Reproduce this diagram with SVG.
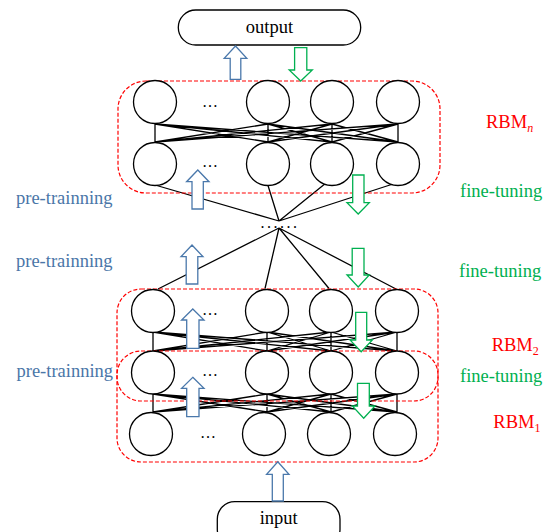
<svg xmlns="http://www.w3.org/2000/svg" width="547" height="532" viewBox="0 0 547 532">
<style>
.nd{fill:#fff;stroke:#000;stroke-width:1.3}
.term{fill:#fff;stroke:#000;stroke-width:1.3}
.box{fill:none;stroke:#ff0000;stroke-width:1.2;stroke-dasharray:4 2}
.ln{fill:none;stroke:#000;stroke-width:1.3}
.up{fill:#fff;stroke:#4a78ab;stroke-width:1.3;stroke-linejoin:miter}
.dn{fill:#fff;stroke:#00b050;stroke-width:1.3;stroke-linejoin:miter}
.t{font-family:"Liberation Serif","Times New Roman",serif;font-size:18.5px}
.blk{fill:#000}
.pt{fill:#4a76a8}
.ft{fill:#00b050}
.rb{fill:#ff0000}
.dots{font-family:"Liberation Serif","Times New Roman",serif;font-size:16px;fill:#000}
</style>

<g id="connectors">
  <path class="ln" d="M155 124L155 142M155 124L268 142M155 124L332 142M155 124L398 142M268 124L155 142M268 124L268 142M268 124L332 142M268 124L398 142M332 124L155 142M332 124L268 142M332 124L332 142M332 124L398 142M398 124L155 142M398 124L268 142M398 124L332 142M398 124L398 142"/>
  <path class="ln" d="M155 185L279 221M268 185.5L279 221M326 183L279 221M393 184L279 221"/>
  <path class="ln" d="M279 228L158 289M279 228L265 288.5M279 228L329 288.5M279 228L396 289"/>
  <path class="ln" d="M153 332L153 351M153 332L267 351M153 332L331 351M153 332L397 351M267 332L153 351M267 332L267 351M267 332L331 351M267 332L397 351M331 332L153 351M331 332L267 351M331 332L331 351M331 332L397 351M397 332L153 351M397 332L267 351M397 332L331 351M397 332L397 351"/>
  <path class="ln" d="M153 394L153 412M153 394L267 412M153 394L331 412M153 394L397 412M267 394L153 412M267 394L267 412M267 394L331 412M267 394L397 412M331 394L153 412M331 394L267 412M331 394L331 412M331 394L397 412M397 394L153 412M397 394L267 412M397 394L331 412M397 394L397 412"/>
</g>

<g id="output">
  <rect class="term" x="178.3" y="10" width="182.4" height="35" rx="17.5"/>
  <text class="t blk" x="269.5" y="32.5" text-anchor="middle">output</text>
</g>
<g id="input">
  <rect class="term" x="217.3" y="501.7" width="122.7" height="45" rx="17.5"/>
  <text class="t blk" x="278.7" y="523.5" text-anchor="middle">input</text>
</g>

<g id="rbm-n">
  <rect class="box" x="118" y="81" width="322" height="112" rx="28" ry="28"/>
  <circle class="nd" cx="155" cy="102" r="21.5"/>
  <circle class="nd" cx="268" cy="102" r="21.5"/>
  <circle class="nd" cx="332" cy="102" r="21.5"/>
  <circle class="nd" cx="398" cy="102" r="21.5"/>
  <text class="dots" x="210" y="107" text-anchor="middle">…</text>
  <circle class="nd" cx="155" cy="164" r="21.5"/>
  <circle class="nd" cx="268" cy="164" r="21.5"/>
  <circle class="nd" cx="332" cy="164" r="21.5"/>
  <circle class="nd" cx="398" cy="164" r="21.5"/>
  <text class="dots" x="210" y="167" text-anchor="middle">…</text>
</g>

<g id="middle-dots">
  <text class="dots" x="280" y="227.5" text-anchor="middle" letter-spacing="2.5">......</text>
</g>

<g id="rbm-2">
  <rect class="box" x="117" y="289" width="321" height="112" rx="24" ry="24"/>
</g>
<g id="rbm-1">
  <rect class="box" x="117" y="351" width="321" height="111" rx="24" ry="24"/>
</g>

<g id="layer-a">
  <circle class="nd" cx="153" cy="311" r="21.5"/>
  <circle class="nd" cx="267" cy="311" r="21.5"/>
  <circle class="nd" cx="331" cy="311" r="21.5"/>
  <circle class="nd" cx="397" cy="311" r="21.5"/>
  <text class="dots" x="210" y="315" text-anchor="middle">…</text>
</g>
<g id="layer-b">
  <circle class="nd" cx="153" cy="372.5" r="21.5"/>
  <circle class="nd" cx="267" cy="372.5" r="21.5"/>
  <circle class="nd" cx="331" cy="372.5" r="21.5"/>
  <circle class="nd" cx="397" cy="372.5" r="21.5"/>
  <text class="dots" x="210" y="376" text-anchor="middle">…</text>
</g>
<g id="layer-c">
  <circle class="nd" cx="151" cy="434" r="21.5"/>
  <circle class="nd" cx="264" cy="434" r="21.5"/>
  <circle class="nd" cx="329" cy="434" r="21.5"/>
  <circle class="nd" cx="395" cy="434" r="21.5"/>
  <text class="dots" x="208" y="438" text-anchor="middle">…</text>
</g>

<g id="arrows">
  <polygon class="up" points="235.5,46 246.8,58.3 240.8,58.3 240.8,79.3 230.2,79.3 230.2,58.3 224.2,58.3"/>
  <polygon class="dn" points="294.6,47.7 306.8,47.7 306.8,70 312.3,70 300.7,81 289.2,70 294.6,70"/>
  <polygon class="up" points="197.8,170 209,181.7 203.3,181.7 203.3,209 192,209 192,181.7 186.6,181.7"/>
  <polygon class="dn" points="352.7,175 364,175 364,202.7 369.3,202.7 358.2,214 347,202.7 352.7,202.7"/>
  <polygon class="up" points="192,245 203,256.7 197.8,256.7 197.8,284 186.2,284 186.2,256.7 181,256.7"/>
  <polygon class="dn" points="352.2,248.3 364,248.3 364,275 369.3,275 358.2,287 347,275 352.2,275"/>
  <polygon class="up" points="192.8,309 204,320 199,320 199,348.3 186.7,348.3 186.7,320 181.6,320"/>
  <polygon class="up" points="192.8,377.3 204,388.3 199,388.3 199,416.7 186.7,416.7 186.7,388.3 181.6,388.3"/>
  <polygon class="dn" points="355.7,312.3 366.7,312.3 366.7,340 372.4,340 361.2,351.7 350,340 355.7,340"/>
  <polygon class="dn" points="357.5,383.3 369.3,383.3 369.3,406 375,406 363.7,418.3 352.3,406 357.5,406"/>
  <polygon class="up" points="277.8,461.7 289,474.3 283.3,474.3 283.3,501 272.3,501 272.3,474.3 266.6,474.3"/>
</g>

<g id="labels">
  <text class="t pt" x="16" y="203.5">pre-trainning</text>
  <text class="t pt" x="16" y="266.7">pre-trainning</text>
  <text class="t pt" x="16.5" y="376.7">pre-trainning</text>
  <text class="t ft" x="460" y="197.3">fine-tuning</text>
  <text class="t ft" x="459" y="277.3">fine-tuning</text>
  <text class="t ft" x="460" y="381.7">fine-tuning</text>
  <text class="t rb" x="486" y="128.3">RBM<tspan font-size="12" font-style="italic" dy="4">n</tspan></text>
  <text class="t rb" x="491.7" y="350.7">RBM<tspan font-size="12" dy="4">2</tspan></text>
  <text class="t rb" x="493.3" y="428.3">RBM<tspan font-size="12" dy="4">1</tspan></text>
</g>
</svg>
